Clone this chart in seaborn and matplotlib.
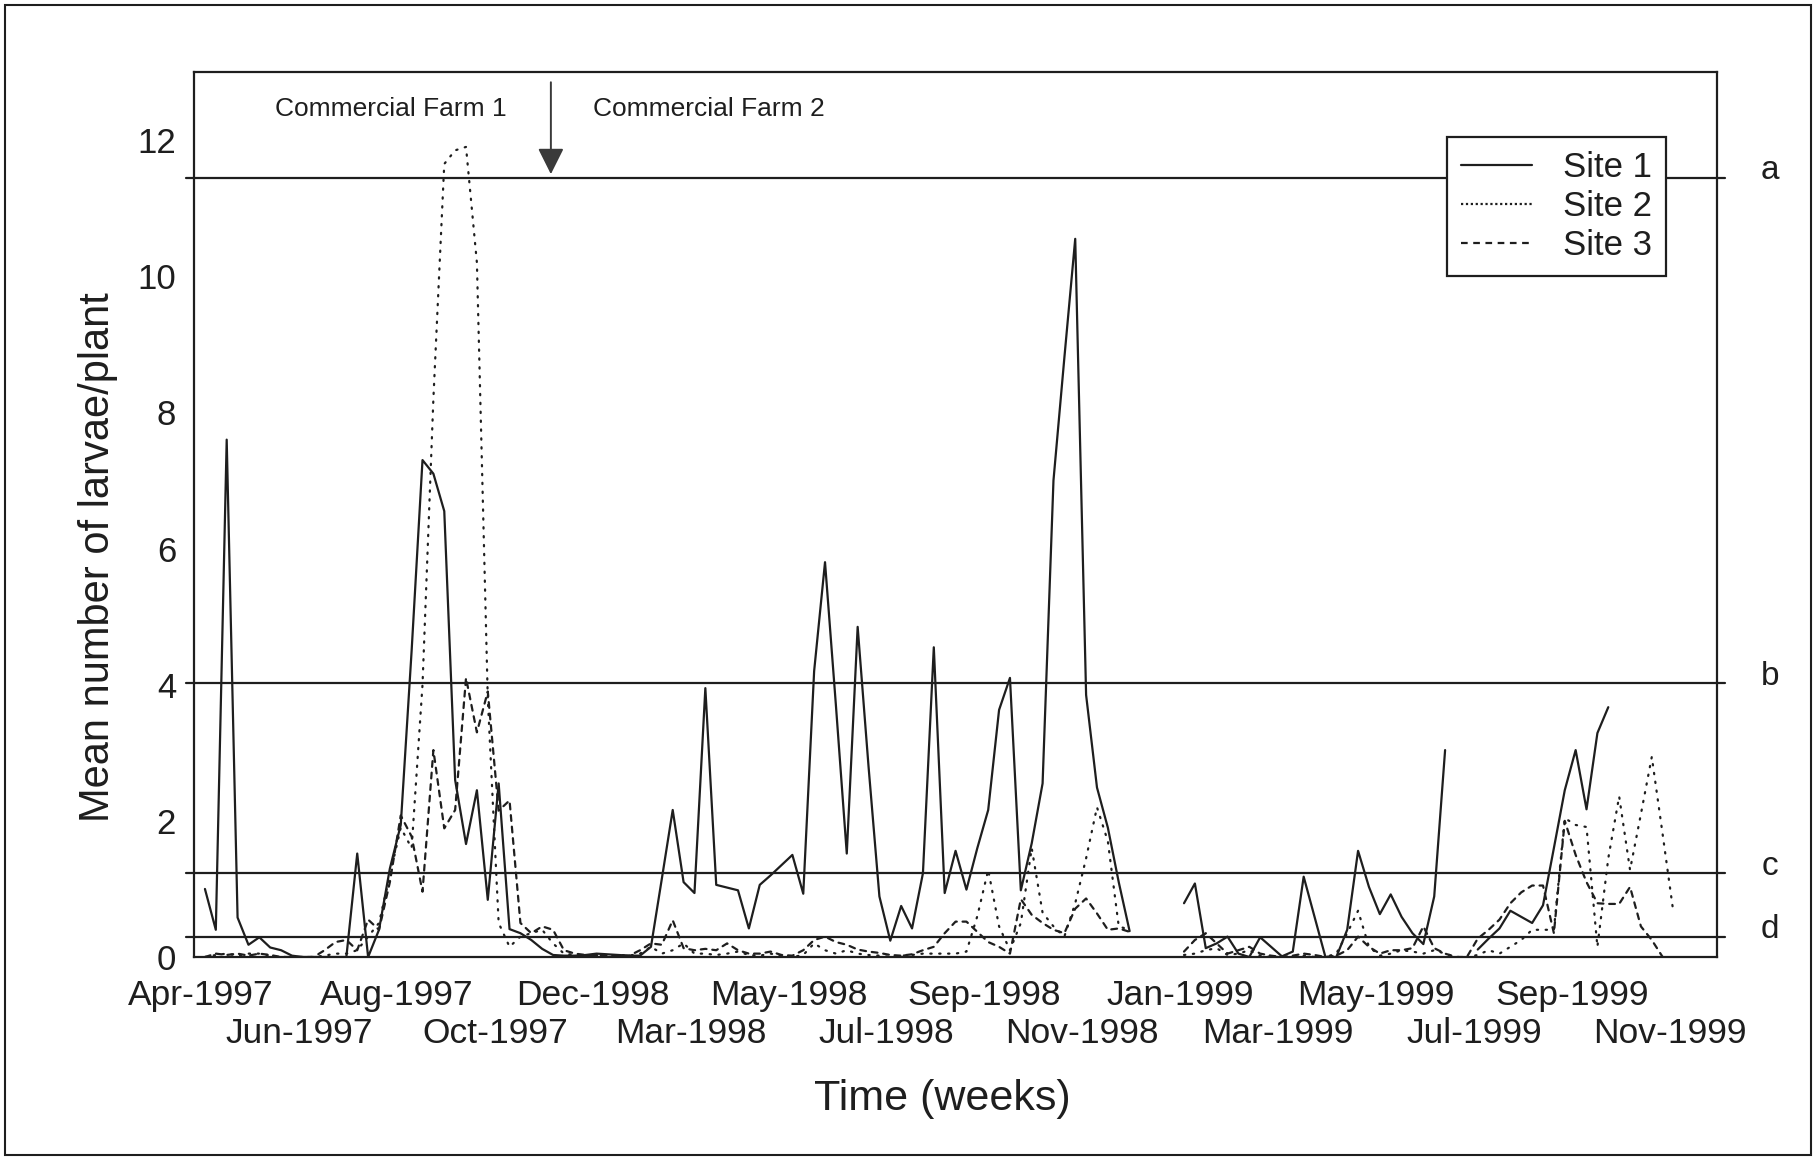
import numpy as np
import pandas as pd
import matplotlib
matplotlib.use("Agg")
import matplotlib.pyplot as plt
import matplotlib.transforms as mtransforms
from matplotlib.lines import Line2D
from matplotlib.patches import Rectangle
import seaborn as sns

nan = np.nan

# sampling weeks (week 0 = start of April 1997)
weeks = np.arange(1, 137)

site1 = [
    1.0, 0.4, 7.6, 0.58, 0.18, 0.29, 0.14, 0.1, 0.02, 0.0,
    0.0, 0.0, 0.0, 0.0, 1.52, 0.0, 0.4, 1.3, 1.94, 4.5,
    7.3, 7.1, 6.55, 2.6, 1.66, 2.45, 0.84, 2.55, 0.41, 0.35,
    0.25, 0.12, 0.03, 0.02, 0.02, 0.03, 0.05, 0.04, 0.03, 0.02,
    0.02, 0.15, 1.15, 2.16, 1.1, 0.94, 3.95, 1.06, 1.02, 0.98,
    0.42, 1.06, 1.2, 1.35, 1.5, 0.93, 4.2, 5.8, 3.7, 1.52,
    4.85, 2.8, 0.89, 0.24, 0.75, 0.42, 1.23, 4.55, 0.94, 1.56,
    0.99, 1.6, 2.16, 3.63, 4.1, 0.98, 1.67, 2.55, 7.0, 8.8,
    10.55, 3.85, 2.49, 1.9, 1.1, 0.38, nan, nan, nan, nan,
    0.79, 1.08, 0.13, 0.2, 0.3, 0.05, 0.0, 0.29, 0.15, 0.01,
    0.08, 1.18, 0.59, 0.0, 0.0, 0.4, 1.56, 1.03, 0.63, 0.92,
    0.59, 0.35, 0.19, 0.89, 3.04, nan, nan, 0.11, 0.27, 0.42,
    0.68, 0.59, 0.5, 0.76, 1.6, 2.45, 3.04, 2.17, 3.29, 3.67,
    nan, nan, nan, nan, nan, nan,
]

site2 = [
    0.0, 0.03, 0.05, 0.02, 0.05, 0.05, 0.02, 0.0, 0.0, 0.0,
    0.0, 0.02, 0.05, 0.05, 0.1, 0.3, 0.5, 1.2, 1.9, 1.6,
    4.0, 8.2, 11.65, 11.85, 11.9, 10.2, 3.8, 0.5, 0.15, 0.3,
    0.35, 0.4, 0.2, 0.05, 0.03, 0.02, 0.03, 0.02, 0.03, 0.02,
    0.05, 0.15, 0.05, 0.1, 0.2, 0.05, 0.05, 0.03, 0.05, 0.08,
    0.03, 0.02, 0.05, 0.02, 0.0, 0.03, 0.2, 0.1, 0.05, 0.1,
    0.05, 0.03, 0.02, 0.0, 0.02, 0.03, 0.05, 0.05, 0.05, 0.05,
    0.08, 0.6, 1.28, 0.45, 0.1, 0.5, 1.6, 0.65, 0.45, 0.3,
    0.79, 1.45, 2.2, 1.7, 0.45, 0.4, nan, nan, nan, nan,
    0.03, 0.05, 0.1, 0.13, 0.03, 0.05, 0.1, 0.02, 0.0, 0.0,
    0.0, 0.02, 0.0, 0.0, 0.05, 0.35, 0.68, 0.15, 0.02, 0.05,
    0.1, 0.08, 0.05, 0.1, 0.05, 0.0, 0.0, 0.03, 0.1, 0.05,
    0.15, 0.25, 0.4, 0.4, 0.4, 2.04, 1.94, 1.91, 0.15, 1.45,
    2.36, 1.28, 2.1, 2.94, 1.8, 0.64,
]

site3 = [
    0.0, 0.05, 0.03, 0.05, 0.02, 0.05, 0.03, 0.0, 0.0, 0.0,
    0.0, 0.1, 0.22, 0.25, 0.1, 0.55, 0.4, 1.1, 2.08, 1.77,
    0.96, 3.04, 1.89, 2.16, 4.1, 3.3, 3.9, 2.15, 2.3, 0.5,
    0.35, 0.45, 0.4, 0.1, 0.05, 0.03, 0.02, 0.03, 0.02, 0.02,
    0.1, 0.2, 0.18, 0.54, 0.13, 0.1, 0.12, 0.1, 0.2, 0.1,
    0.05, 0.05, 0.08, 0.03, 0.02, 0.1, 0.25, 0.3, 0.22, 0.18,
    0.11, 0.08, 0.06, 0.03, 0.02, 0.04, 0.1, 0.15, 0.35, 0.52,
    0.52, 0.37, 0.22, 0.15, 0.05, 0.85, 0.62, 0.5, 0.4, 0.35,
    0.71, 0.86, 0.64, 0.4, 0.42, 0.37, nan, nan, nan, nan,
    0.08, 0.25, 0.35, 0.2, 0.05, 0.1, 0.15, 0.05, 0.02, 0.0,
    0.02, 0.05, 0.03, 0.0, 0.02, 0.1, 0.3, 0.15, 0.05, 0.1,
    0.1, 0.13, 0.45, 0.13, 0.05, 0.0, 0.0, 0.27, 0.4, 0.55,
    0.79, 0.95, 1.05, 1.05, 0.35, 2.0, 1.5, 1.1, 0.79, 0.78,
    0.78, 1.03, 0.45, 0.25, 0.0, nan,
]

site_names = ["Site 1", "Site 2", "Site 3"]

month_labels = [
    "Apr-1997", "Jun-1997", "Aug-1997", "Oct-1997", "Dec-1998", "Mar-1998",
    "May-1998", "Jul-1998", "Sep-1998", "Nov-1998", "Jan-1999", "Mar-1999",
    "May-1999", "Jul-1999", "Sep-1999", "Nov-1999",
]
label_weeks = list(range(0, 9 * len(month_labels), 9))
minor_weeks = list(range(0, 139, 3))

threshold_values = [11.45, 4.02, 1.23, 0.30]
threshold_names = ["a", "b", "c", "d"]

farm_labels = ["Commercial Farm 1", "Commercial Farm 2"]
farm_label_weeks = [18.1, 47.3]
farm_change_week = 32.8

# ---------------------------------------------------------------- style
sns.set_style("white")
plt.rcParams["font.family"] = ["Liberation Sans", "DejaVu Sans"]
ink = "#1e1e1e"
lw = 1.6

fig = plt.figure(figsize=(18.17, 11.62), dpi=100)
ax = fig.add_axes([0.1068, 0.1764, 0.8382, 0.7616])

# long-form table; a new segment starts after every missing week
df = pd.DataFrame({
    "week": np.tile(weeks, 3),
    "larvae": np.array(site1 + site2 + site3, dtype=float),
    "site": np.repeat(site_names, len(weeks)),
})
df["segment"] = df.groupby("site")["larvae"].transform(lambda s: s.isna().cumsum())
df = df.dropna()

dash_styles = {"Site 1": "", "Site 2": (0.6, 3.4), "Site 3": (2.6, 2.6)}
sns.lineplot(data=df, x="week", y="larvae", style="site", units="segment",
             estimator=None, dashes=dash_styles, color=ink, lw=lw,
             legend=False, ax=ax, zorder=3)
for line in ax.get_lines():
    line.set_dash_capstyle("round")

# reference levels a-d
for val, name in zip(threshold_values, threshold_names):
    ax.plot([-0.7, 140.7], [val, val], color=ink, lw=lw, clip_on=False, zorder=2)
    ax.text(1.0348, val - 0.02, name, transform=ax.get_yaxis_transform(),
            ha="center", va="baseline", fontsize=24, color=ink)

# farm change
ax.annotate("", xy=(farm_change_week, 11.5), xytext=(farm_change_week, 12.85),
            arrowprops=dict(arrowstyle="-|>", color="#3a3a3a", lw=1.4,
                            mutation_scale=40, shrinkA=0, shrinkB=0))
for txt, wk in zip(farm_labels, farm_label_weeks):
    ax.text(wk, 12.46, txt, ha="center", va="center", fontsize=19, color=ink)

# axes
ax.set_xlim(0, 140)
ax.set_ylim(0, 13)
ax.set_yticks(range(0, 13, 2))
ax.set_xticks(label_weeks[0::2], labels=month_labels[0::2])
ax.set_xticks(minor_weeks, minor=True)

ax.tick_params(axis="y", direction="out", length=5, width=1.2, labelsize=25,
               pad=8, colors=ink)
ax.tick_params(axis="x", which="both", direction="in", length=3.8, width=1.2,
               labelsize=25.5, pad=15.5, colors=ink)
for sp in ax.spines.values():
    sp.set_visible(True)
    sp.set_linewidth(lw)
    sp.set_color(ink)

# second row of month labels
ax_lower = ax.secondary_xaxis("bottom")
ax_lower.set_xticks(label_weeks[1::2], labels=month_labels[1::2])
ax_lower.tick_params(axis="x", length=0, labelsize=25.5, pad=43, colors=ink)
ax_lower.spines["bottom"].set_visible(False)

ax.set_ylabel("Mean number of larvae/plant", fontsize=30, color=ink)
ax.yaxis.set_label_coords(-0.05, 0.452)
ax.set_xlabel("Time (weeks)", fontsize=31, color=ink)
ax.xaxis.set_label_coords(0.491, -0.138)

handles = [Line2D([], [], color=ink, lw=lw, linestyle="-"),
           Line2D([], [], color=ink, lw=lw, linestyle=(0, (1, 1.2))),
           Line2D([], [], color=ink, lw=lw, linestyle=(0, (3, 2.5)))]
leg = ax.legend(handles, site_names, loc="upper left",
                bbox_to_anchor=(0.8227, 0.9266), borderaxespad=0,
                frameon=True, fancybox=False, framealpha=1, edgecolor=ink,
                fontsize=25, handlelength=2.05, handletextpad=0.9,
                labelspacing=0.17, borderpad=0.4)
leg.get_frame().set_linewidth(lw)
leg.set_zorder(5)
for t in leg.get_texts():
    t.set_color(ink)

# outer frame around the whole figure
fig.patches.append(Rectangle((0.0028, 0.006), 0.9939, 0.9898,
                             transform=fig.transFigure, fill=False,
                             lw=1.5, ec=ink))

# month labels sit a little to the right of their ticks
fig.canvas.draw()
shift = mtransforms.ScaledTranslation(0.07, 0, fig.dpi_scale_trans)
for lab in ax.get_xticklabels() + ax_lower.get_xticklabels():
    lab.set_transform(lab.get_transform() + shift)

fig.savefig("out.png", dpi=100)
